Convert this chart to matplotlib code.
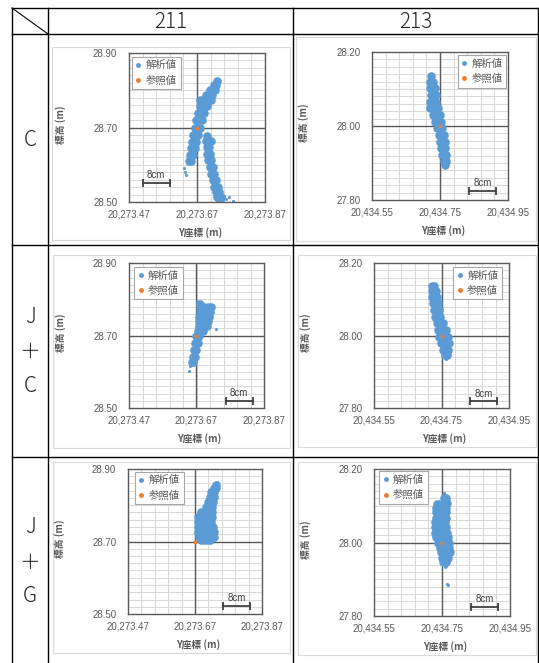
import matplotlib.pyplot as plt
from matplotlib.patches import Rectangle
from matplotlib.lines import Line2D

W, H = 539, 663

col_labels = ['211', '213']
row_labels = [['C'], ['J', '＋', 'C'], ['J', '＋', 'G']]

x_ticks_211 = [20273.47, 20273.67, 20273.87]
y_ticks_211 = [28.50, 28.70, 28.90]
x_ticks_213 = [20434.55, 20434.75, 20434.95]
y_ticks_213 = [27.80, 28.00, 28.20]

ref_211 = (20273.67, 28.70)
ref_213 = (20434.75, 28.00)

# analysed positions as offsets from the reference point (dY cm, dZ cm)
c_211 = [(6.0, 12.6), (4.9, 11.5), (5.6, 11.5), (3.8, 10.1), (4.5, 10.1), (5.2, 10.1),
         (2.6, 8.8), (3.5, 8.8), (4.5, 8.8), (1.0, 7.4), (1.8, 7.4), (3.0, 7.4), (4.0, 7.4),
         (1.0, 5.7), (1.8, 5.7), (3.0, 5.7), (0.4, 3.9), (1.2, 3.9), (2.2, 3.9),
         (-0.2, 2.1), (0.6, 2.1), (1.6, 2.1), (-0.7, 0.0), (0.0, 0.0), (0.8, 0.0),
         (-1.2, -2.0), (-0.5, -2.0), (0.2, -2.0), (-1.6, -3.8), (-0.9, -3.8), (-0.2, -3.8),
         (-1.9, -5.6), (-1.2, -5.6), (-0.6, -5.6), (-2.1, -7.4), (-1.3, -7.4),
         (-2.3, -9.0), (-1.9, -9.0),
         (3.0, -2.4), (2.6, -3.5), (3.4, -3.5), (4.0, -3.5), (2.8, -5.2), (3.6, -5.2),
         (3.0, -7.0), (3.9, -7.0), (3.3, -8.8), (4.2, -8.8), (3.8, -10.6), (4.8, -10.6),
         (4.1, -12.4), (5.1, -12.4), (4.6, -14.2), (5.6, -14.2), (5.1, -16.0), (6.2, -16.0),
         (5.5, -17.4), (6.6, -17.4), (5.9, -18.7), (7.0, -18.7), (6.8, -19.4)]
c_211_stray = [(-3.8, -11.0), (-3.1, -12.8), (-3.4, -12.0), (9.5, -18.7), (10.5, -19.6),
               (8.6, -19.2), (8.0, -18.3)]

c_213 = [(-2.7, 13.4), (-2.8, 12.0), (-2.0, 12.0), (-2.8, 10.2), (-2.0, 10.2), (-1.5, 10.2),
         (-2.6, 8.4), (-1.8, 8.4), (-1.2, 8.4), (-2.8, 6.6), (-2.0, 6.6), (-1.1, 6.6),
         (-2.9, 4.8), (-2.1, 4.8), (-1.2, 4.8), (-0.5, 4.8), (-2.0, 3.0), (-1.0, 3.0), (-0.1, 3.0),
         (-1.4, 1.2), (-0.5, 1.2), (0.4, 1.2), (-0.8, -0.6), (0.1, -0.6), (0.7, -0.6),
         (-0.4, -2.4), (0.5, -2.4), (1.1, -2.4), (-0.1, -4.2), (0.8, -4.2), (1.4, -4.2),
         (0.2, -6.0), (1.0, -6.0), (1.6, -6.0), (0.5, -7.8), (1.3, -7.8), (1.8, -7.8),
         (1.1, -9.4), (1.7, -9.4), (1.5, -10.6)]
c_213_stray = []

jc_211 = [(1.0, 8.6), (1.0, 7.8), (2.2, 7.8), (3.4, 7.8), (4.4, 7.8),
          (0.9, 6.6), (1.9, 6.6), (3.0, 6.6), (4.0, 6.6), (0.8, 5.2), (1.8, 5.2), (2.8, 5.2), (3.6, 5.2),
          (0.7, 3.9), (1.6, 3.9), (2.6, 3.9), (3.3, 3.9), (0.6, 2.5), (1.5, 2.5), (2.4, 2.5), (3.0, 2.5),
          (0.5, 1.3), (1.3, 1.3), (2.0, 1.3), (-0.1, -0.1), (0.7, -0.1),
          (-0.5, -2.1), (0.4, -2.1), (-0.8, -3.9), (0.0, -3.9), (-1.1, -5.8), (-0.4, -5.8),
          (-1.4, -7.2), (-1.0, -7.2)]
jc_211_stray = [(0.1, 9.4), (5.9, 1.8), (-2.2, -9.7), (-1.8, -8.3)]

jc_213 = [(-2.8, 13.6), (-2.1, 13.6), (-2.9, 12.4), (-2.2, 12.4), (-1.7, 12.4),
          (-2.8, 10.7), (-2.1, 10.7), (-1.4, 10.7), (-2.5, 8.9), (-1.8, 8.9), (-1.1, 8.9),
          (-2.2, 7.1), (-1.5, 7.1), (-0.8, 7.1), (-1.8, 5.2), (-1.1, 5.2), (-0.3, 5.2),
          (-1.4, 3.4), (-0.7, 3.4), (0.3, 3.4), (-1.0, 1.6), (-0.3, 1.6), (0.7, 1.6), (1.4, 1.6),
          (-0.6, -0.3), (0.1, -0.3), (1.0, -0.3), (2.0, -0.3), (-0.1, -2.1), (0.6, -2.1), (1.5, -2.1),
          (2.2, -2.1), (0.5, -3.9), (1.2, -3.9), (2.0, -3.9), (1.1, -5.4), (1.7, -5.4)]
jc_213_stray = [(1.4, -6.5)]

jg_211 = [(6.2, 15.6), (5.6, 14.8), (6.2, 14.8), (4.9, 13.6), (5.7, 13.6),
          (4.4, 12.2), (5.2, 12.2), (5.8, 12.2), (4.0, 10.8), (4.8, 10.8), (5.5, 10.8),
          (3.2, 9.4), (4.1, 9.4), (5.1, 9.4), (1.8, 8.1), (2.8, 8.1), (3.9, 8.1), (5.0, 8.1),
          (1.0, 6.7), (1.8, 6.7), (2.9, 6.7), (4.0, 6.7), (5.0, 6.7),
          (0.9, 5.3), (1.7, 5.3), (2.7, 5.3), (3.8, 5.3), (4.8, 5.3),
          (0.9, 3.9), (1.7, 3.9), (2.7, 3.9), (3.8, 3.9), (4.8, 3.9), (5.5, 3.9),
          (1.0, 2.6), (1.8, 2.6), (2.9, 2.6), (4.0, 2.6), (5.0, 2.6), (5.6, 2.6),
          (1.1, 1.2), (1.9, 1.2), (3.0, 1.2), (4.1, 1.2), (5.1, 1.2), (5.7, 1.2),
          (1.7, 0.5), (2.6, 0.5), (3.7, 0.5), (4.6, 0.5)]
jg_211_stray = [(6.6, 16.3), (7.0, 16.0)]

jg_213 = [(0.7, 12.1), (1.3, 12.1), (-1.5, 10.6), (-0.9, 10.6), (0.7, 10.7), (1.4, 10.7),
          (-1.8, 9.5), (-1.0, 9.5), (0.4, 9.5), (1.3, 9.5), (-1.8, 8.2), (-1.0, 8.2), (0.0, 8.2), (1.2, 8.2),
          (-1.8, 6.8), (-1.0, 6.8), (0.2, 6.8), (1.1, 6.8), (-2.0, 5.5), (-1.2, 5.5), (0.0, 5.5), (0.9, 5.5),
          (-2.2, 4.1), (-1.4, 4.1), (-0.4, 4.1), (0.6, 4.1), (1.3, 4.1),
          (-2.2, 2.7), (-1.4, 2.7), (-0.4, 2.7), (0.6, 2.7), (1.5, 2.7),
          (-1.8, 1.4), (-1.0, 1.4), (0.1, 1.4), (1.1, 1.4), (1.9, 1.4),
          (-1.1, 0.0), (-0.2, 0.0), (0.9, 0.0), (2.0, 0.0), (-0.6, -1.4), (0.2, -1.4), (1.2, -1.4), (2.0, -1.4),
          (-0.3, -2.7), (0.5, -2.7), (1.5, -2.7), (2.3, -2.7), (-0.1, -4.1), (0.8, -4.1), (1.8, -4.1),
          (0.4, -5.2), (1.2, -5.2)]
jg_213_stray = [(0.5, 13.5), (0.4, 12.9), (1.1, -6.4), (0.9, -6.8), (1.5, -11.4), (1.9, -11.6)]

BLUE = '#5B9BD5'
ORANGE = '#ED7D31'
TXT = '#595959'
JP = 'Noto Sans CJK JP'
plt.rcParams['font.family'] = ['Liberation Sans', JP]

# panel layout in pixels: chart box (l, t, r, b), plot box (l, t, r, b)
panels = [
    (0, 0, c_211, c_211_stray, (52, 47, 290, 240), (129, 53, 265, 202), 'upper left', (0.02, 0.975), (20273.51, 28.55)),
    (0, 1, c_213, c_213_stray, (296, 37, 536, 241), (372, 52, 508, 200), 'upper right', (0.988, 0.978), (20434.835, 27.824)),
    (1, 0, jc_211, jc_211_stray, (53, 255, 290, 448), (129, 263, 264, 408), 'upper left', (0.037, 0.973), (20273.756, 28.52)),
    (1, 1, jc_213, jc_213_stray, (298, 255, 536, 447), (374, 263, 509, 408), 'upper right', (0.948, 0.973), (20434.834, 27.818)),
    (2, 0, jg_211, jg_211_stray, (53, 462, 290, 653), (128, 469, 262, 614), 'upper left', (0.05, 0.981), (20273.754, 28.523)),
    (2, 1, jg_213, jg_213_stray, (298, 462, 536, 655), (374, 469, 510, 616), 'upper left', (0.035, 0.984), (20434.835, 27.824)),
]

fig = plt.figure(figsize=(W / 100, H / 100), dpi=100)
bg = fig.add_axes([0, 0, 1, 1])
bg.set_xlim(0, W)
bg.set_ylim(H, 0)
bg.axis('off')

# table grid
lk = dict(color='black', lw=1.0)
for y in [8, 34, 245, 457]:
    bg.plot([12, 538], [y, y], **lk)
for x in [12, 48, 293, 538]:
    bg.plot([x, x], [8, H], **lk)
bg.plot([12, 48], [8, 34], color='black', lw=0.8)

for i, lab in enumerate(col_labels):
    bg.text([170.5, 415.5][i], 22, lab, fontsize=15, family=JP, color='#262626',
            ha='center', va='center', fontweight='light')
row_y = [[140], [317, 352, 386], [527, 563, 596]]
for labs, ys in zip(row_labels, row_y):
    for lab, y in zip(labs, ys):
        bg.text(30, y, lab, fontsize=15, family=JP, color='#262626', ha='center', va='center',
                fontweight='light')

for r, c, pts, stray, cb, pb, lloc, lanchor, bar in panels:
    bg.add_patch(Rectangle((cb[0], cb[1]), cb[2] - cb[0], cb[3] - cb[1],
                           facecolor='white', edgecolor='#d9d9d9', lw=0.8))
    l, t, rr, b = pb
    ax = fig.add_axes([l / W, 1 - b / H, (rr - l) / W, (b - t) / H])
    if c == 0:
        xt, yt, ref = x_ticks_211, y_ticks_211, ref_211
    else:
        xt, yt, ref = x_ticks_213, y_ticks_213, ref_213
    ax.set_xlim(xt[0], xt[-1])
    ax.set_ylim(yt[0], yt[-1])
    for k in range(1, 10):
        ax.axvline(xt[0] + 0.04 * k, color='#d9d9d9', lw=0.75, zorder=0)
    for k in range(1, 20):
        ax.axhline(yt[0] + 0.02 * k, color='#d9d9d9', lw=0.75, zorder=0)
    ax.axvline(xt[1], color='#595959', lw=1.0, zorder=1)
    ax.axhline(yt[1], color='#595959', lw=1.0, zorder=1)
    for s in ax.spines.values():
        s.set_color('#595959')
        s.set_linewidth(1.0)
    ax.set_xticks(xt)
    ax.set_yticks(yt)
    ax.set_xticklabels(['{:,.2f}'.format(v) for v in xt])
    ax.set_yticklabels(['{:.2f}'.format(v) for v in yt])
    ax.tick_params(length=0, labelsize=7, labelcolor=TXT)
    ax.tick_params(axis='y', pad=8.5)
    ax.tick_params(axis='x', pad=5.5)

    xs = [ref[0] + p[0] / 100 for p in pts]
    ys = [ref[1] + p[1] / 100 for p in pts]
    ax.scatter(xs, ys, s=38, color=BLUE, lw=0, zorder=2)
    if stray:
        ax.scatter([ref[0] + p[0] / 100 for p in stray], [ref[1] + p[1] / 100 for p in stray],
                   s=5, color=BLUE, lw=0, zorder=2)
    ax.scatter([ref[0]], [ref[1]], s=7, color=ORANGE, lw=0, zorder=3)

    # 8cm scale bar
    bx, by = bar
    ax.plot([bx, bx + 0.08], [by, by], color='#404040', lw=1.3, zorder=4,
            marker='|', markersize=6, markeredgewidth=1.3)
    ax.text(bx + 0.04, by + 0.008, '8cm', fontsize=7, color='#404040',
            ha='center', va='bottom', zorder=4)

    handles = [Line2D([], [], ls='none', marker='o', ms=2.5, color=BLUE, label='解析値'),
               Line2D([], [], ls='none', marker='o', ms=2.5, color=ORANGE, label='参照値')]
    leg = ax.legend(handles=handles, loc=lloc, bbox_to_anchor=lanchor, borderaxespad=0,
                    fancybox=False, edgecolor='#a6a6a6', framealpha=1, handlelength=0.6,
                    handletextpad=0.4, borderpad=0.35, labelspacing=0.45,
                    prop={'family': JP, 'size': 7.5})
    leg.get_frame().set_linewidth(0.8)
    for tx in leg.get_texts():
        tx.set_color(TXT)

    cx = (l + rr) / 2
    cy = (t + b) / 2
    bg.text(l - 68, cy - 3, '標高 (m)', rotation=90, fontsize=7, family=JP, color=TXT,
            ha='center', va='center', fontweight='bold')
    bg.text(cx + 3, b + 31, 'Y座標 (m)', fontsize=7, family=JP, color=TXT,
            ha='center', va='center', fontweight='bold')

fig.savefig('out.png', dpi=100)
